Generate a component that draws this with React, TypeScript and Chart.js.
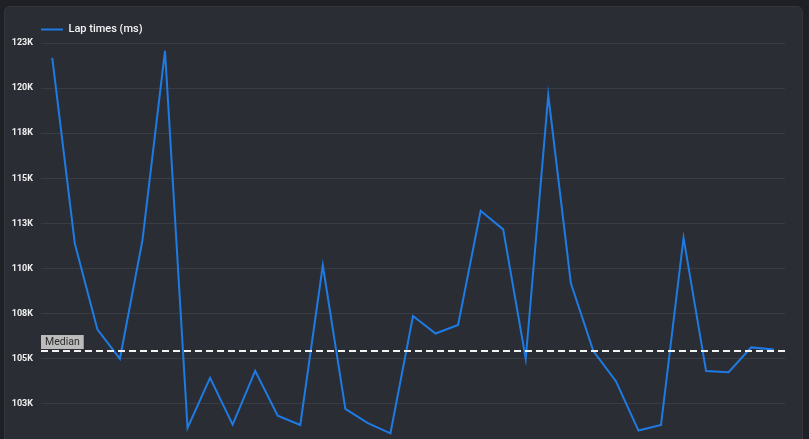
import { useEffect, useRef } from "react"
import { Chart, registerables } from "chart.js"
import type { Plugin } from "chart.js"

Chart.register(...registerables)

const lapLabels = [
  "1", "2", "3", "4", "5", "6", "7", "8", "9", "10", "11",
  "12", "13", "14", "15", "16", "17", "18", "19", "20", "21", "22",
  "23", "24", "25", "26", "27", "28", "29", "30", "31", "32", "33",
]

const lapTimes = [
  121680, 111390, 106630, 105000, 111570, 122070, 101170, 103940, 101350, 104330, 101850,
  101330, 110180, 102220, 101430, 100870, 107370, 106400, 106870, 113200, 112170, 105000,
  119610, 109200, 105430, 103760, 101020, 101330, 111700, 104320, 104260, 105630, 105520,
]

const yMin = 100000
const yMax = 122500
const yStep = 2500

const sorted = [...lapTimes].sort((a, b) => a - b)
const medianValue = sorted[Math.floor(sorted.length / 2)]

const medianLine: Plugin<"line"> = {
  id: "medianLine",
  afterDatasetsDraw(chart) {
    const { ctx, chartArea, scales } = chart
    const y = scales.y.getPixelForValue(medianValue)
    ctx.save()
    ctx.strokeStyle = "#f2f2f2"
    ctx.lineWidth = 2
    ctx.setLineDash([7, 4])
    ctx.beginPath()
    ctx.moveTo(chartArea.left, y)
    ctx.lineTo(chartArea.right, y)
    ctx.stroke()

    // label box sitting on the line
    ctx.setLineDash([])
    ctx.font = "10.5px Roboto"
    const w = ctx.measureText("Median").width + 8
    ctx.fillStyle = "#bcbcbc"
    ctx.fillRect(chartArea.left, y - 16, w, 14)
    ctx.fillStyle = "#2c2c2c"
    ctx.textBaseline = "middle"
    ctx.fillText("Median", chartArea.left + 4, y - 8.5)
    ctx.restore()
  },
}

export default function App() {
  const chartRef = useRef<HTMLCanvasElement>(null)
  const chartInstance = useRef<Chart | null>(null)

  useEffect(() => {
    if (!chartRef.current) return
    document.body.style.margin = "0"

    if (chartInstance.current) {
      chartInstance.current.destroy()
    }

    const ctx = chartRef.current.getContext("2d")
    if (!ctx) return

    chartInstance.current = new Chart(ctx, {
      type: "line",
      data: {
        labels: lapLabels,
        datasets: [
          {
            label: "Lap times (ms)",
            data: lapTimes,
            borderColor: "#1d7be3",
            backgroundColor: "#1d7be3",
            borderWidth: 2,
            pointRadius: 0,
            tension: 0,
          },
        ],
      },
      options: {
        animation: false,
        responsive: true,
        maintainAspectRatio: false,
        layout: {
          padding: { left: 0, right: 24, top: 24, bottom: 21 },
        },
        plugins: {
          legend: {
            position: "top",
            align: "start",
            fullSize: false,
            maxHeight: 19,
            labels: {
              boxWidth: 22,
              boxHeight: 0,
              padding: 0,
              color: "#f4f4f4",
              font: { family: "Roboto", size: 11, weight: 500 },
            },
          },
          tooltip: { enabled: false },
        },
        scales: {
          x: {
            display: false,
            offset: true,
          },
          y: {
            min: yMin,
            max: yMax,
            afterFit: (scale) => {
              scale.width = 41
            },
            border: { display: false },
            grid: {
              color: "#3a3c45",
              drawTicks: false,
            },
            ticks: {
              stepSize: yStep,
              padding: 8,
              color: "#f0f0f0",
              font: { family: "Roboto", size: 9, weight: "bold" },
              callback: (value) => `${Math.round(Number(value) / 1000)}K`,
            },
          },
        },
      },
      plugins: [medianLine],
    })

    return () => {
      if (chartInstance.current) {
        chartInstance.current.destroy()
        chartInstance.current = null
      }
    }
  }, [])

  return (
    <div
      style={{
        position: "relative",
        width: 809,
        height: 439,
        overflow: "hidden",
        background: "#1f2025",
      }}
    >
      <div
        style={{
          position: "absolute",
          left: 4,
          top: 6,
          width: 797,
          height: 470,
          background: "#2b2d35",
          border: "1px solid #34363e",
          borderRadius: 6,
        }}
      />
      <div style={{ position: "absolute", left: 0, top: 0, width: 809, height: 470 }}>
        <canvas ref={chartRef} />
      </div>
    </div>
  )
}
